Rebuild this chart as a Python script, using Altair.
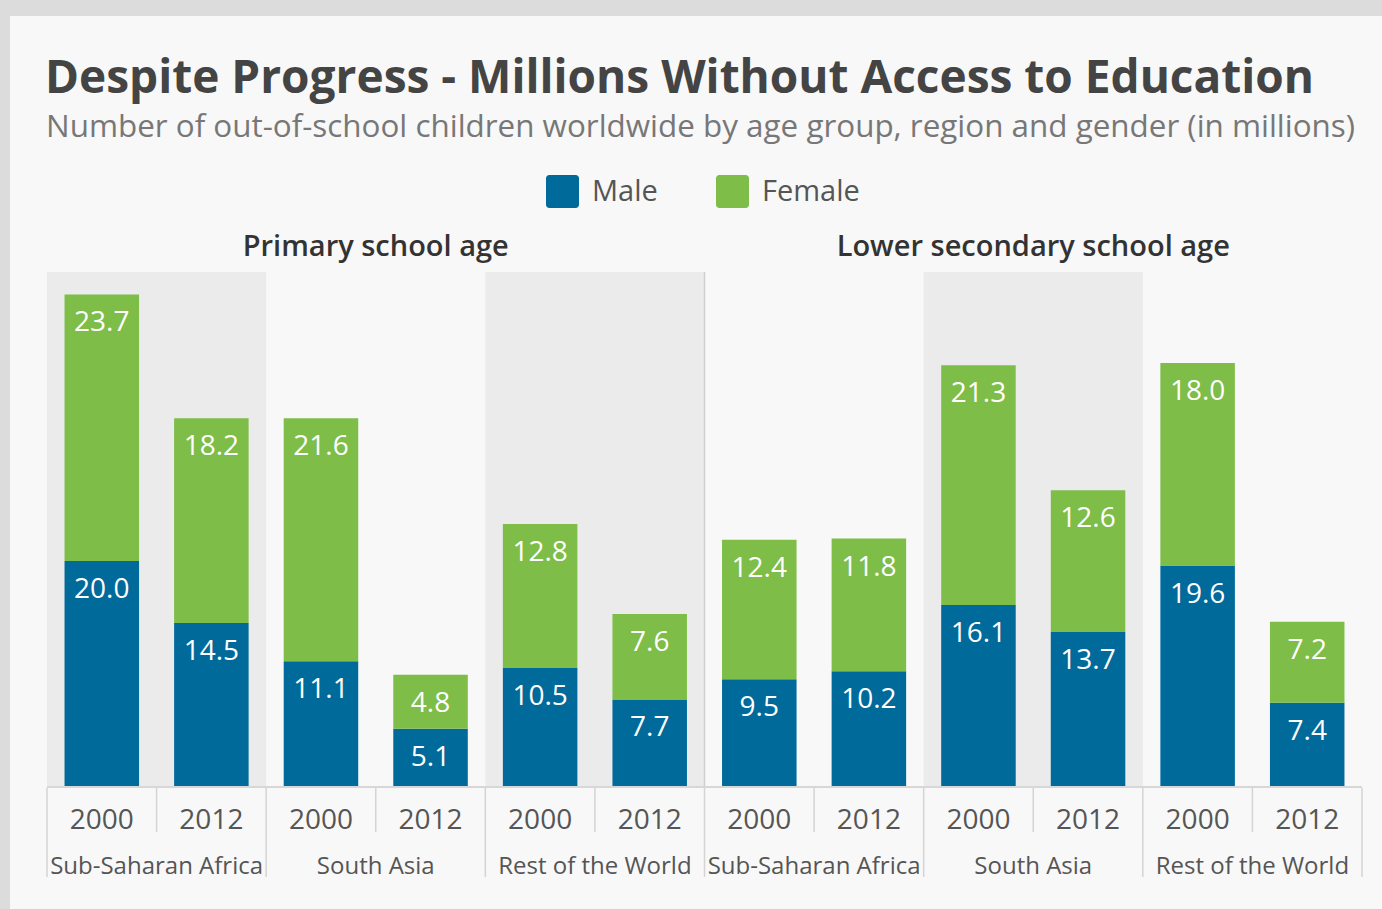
import altair as alt
import pandas as pd

# ---- data ----
age_groups = ["Primary school age", "Lower secondary school age"]
regions = ["Sub-Saharan Africa", "South Asia", "Rest of the World"]
years = ["2000", "2012"]
male = [20.0, 14.5, 11.1, 5.1, 10.5, 7.7, 9.5, 10.2, 16.1, 13.7, 19.6, 7.4]
female = [23.7, 18.2, 21.6, 4.8, 12.8, 7.6, 12.4, 11.8, 21.3, 12.6, 18.0, 7.2]

TITLE = "Despite Progress - Millions Without Access to Education"
SUBTITLE = "Number of out-of-school children worldwide by age group, region and gender (in millions)"

BLUE = "#006a9b"
GREEN = "#7dbd48"
FONT = "Open Sans"

W, H = 1315, 514
YMAX = 45.7

# ---- build tables ----
rows = []
slot = 0
for g in age_groups:
    for r in regions:
        for y in years:
            m = male[slot]
            f = female[slot]
            rows.append(dict(slot=slot, group=g, region=r, year=y, gender="Male",
                             value=m, y0=0.0, y1=m))
            rows.append(dict(slot=slot, group=g, region=r, year=y, gender="Female",
                             value=f, y0=m, y1=m + f))
            slot += 1
bars = pd.DataFrame(rows)
bars["xa"] = bars["slot"] + 0.16
bars["xb"] = bars["slot"] + 0.84
bars["xc"] = bars["slot"] + 0.50

slots = pd.DataFrame({"slot": list(range(12)), "year": years * 6})
slots["xc"] = slots["slot"] + 0.5
ydiv = slots[slots["slot"] % 2 == 1].copy()

reg = pd.DataFrame({"r": list(range(6)), "region": regions * 2})
reg["xa"] = reg["r"] * 2
reg["xb"] = reg["r"] * 2 + 2
reg["xc"] = reg["r"] * 2 + 1
shaded = reg[reg["r"] % 2 == 0].copy()

rdiv = pd.DataFrame({"xd": [0, 2, 4, 6, 8, 10, 12]})
gsep = pd.DataFrame({"xd": [6]})

heads = pd.DataFrame({"group": age_groups, "xc": [3, 9]})
titles = pd.DataFrame({"t": [TITLE]})
subtitles = pd.DataFrame({"t": [SUBTITLE]})
frame = pd.DataFrame({"k": [1]})

xs = alt.Scale(domain=[0, 12], nice=False, zero=False)
ys = alt.Scale(domain=[0, YMAX], nice=False)

panel = alt.Chart(frame).mark_rect(color="#f8f8f8").encode(
    x=alt.value(-37), x2=alt.value(1335), y=alt.value(-256), y2=alt.value(637))

bands = alt.Chart(shaded).mark_rect(color="#ebebeb").encode(
    x=alt.X("xa:Q", scale=xs, axis=None), x2="xb:Q",
    y=alt.value(0), y2=alt.value(H))

sep = alt.Chart(gsep).mark_rule(color="#cfcfcf", strokeWidth=1.5).encode(
    x=alt.X("xd:Q", scale=xs, axis=None), y=alt.value(0), y2=alt.value(H))

barl = alt.Chart(bars).mark_rect().encode(
    x=alt.X("xa:Q", scale=xs, axis=None), x2="xb:Q",
    y=alt.Y("y0:Q", scale=ys, axis=None), y2="y1:Q",
    color=alt.Color("gender:N",
                    scale=alt.Scale(domain=["Male", "Female"], range=[BLUE, GREEN]),
                    legend=alt.Legend(title=None, orient="none", direction="horizontal",
                                      legendX=499, legendY=-97,
                                      symbolType="M-0.8,-1H0.8A0.2,0.2 0 0 1 1,-0.8V0.8A0.2,0.2 0 0 1 0.8,1H-0.8A0.2,0.2 0 0 1 -1,0.8V-0.8A0.2,0.2 0 0 1 -0.8,-1Z",
                                      symbolSize=1089, symbolStrokeWidth=0,
                                      labelFont=FONT, labelFontSize=29, labelColor="#555555",
                                      labelOffset=13, columnPadding=58, padding=0)))

vals = alt.Chart(bars).mark_text(color="white", font=FONT, fontSize=28,
                                 align="center", baseline="alphabetic", dy=37).encode(
    x=alt.X("xc:Q", scale=xs, axis=None), y=alt.Y("y1:Q", scale=ys, axis=None),
    text=alt.Text("value:Q", format=".1f"))

base_rule = alt.Chart(frame).mark_rule(color="#cccccc", strokeWidth=1.5).encode(
    x=alt.value(0), x2=alt.value(W), y=alt.value(H + 1))

year_div = alt.Chart(ydiv).mark_rule(color="#d4d4d4", strokeWidth=1.5).encode(
    x=alt.X("slot:Q", scale=xs, axis=None), y=alt.value(H + 2), y2=alt.value(560))

reg_div = alt.Chart(rdiv).mark_rule(color="#d4d4d4", strokeWidth=1.5).encode(
    x=alt.X("xd:Q", scale=xs, axis=None), y=alt.value(H + 2), y2=alt.value(605))

year_txt = alt.Chart(slots).mark_text(font=FONT, fontSize=28, color="#555555",
                                      align="center", baseline="alphabetic").encode(
    x=alt.X("xc:Q", scale=xs, axis=None), y=alt.value(557), text="year:N")

reg_txt = alt.Chart(reg).mark_text(font=FONT, fontSize=24, color="#555555",
                                   align="center", baseline="alphabetic").encode(
    x=alt.X("xc:Q", scale=xs, axis=None), y=alt.value(602), text="region:N")

head_txt = alt.Chart(heads).mark_text(font=FONT, fontSize=29, fontWeight=600, color="#333333",
                                      align="center", baseline="alphabetic").encode(
    x=alt.X("xc:Q", scale=xs, axis=None), y=alt.value(-16), text="group:N")

title_txt = alt.Chart(titles).mark_text(font=FONT, fontSize=46, fontWeight="bold", color="#444444",
                                        align="left", baseline="alphabetic").encode(
    x=alt.value(-2), y=alt.value(-179), text="t:N")

sub_txt = alt.Chart(subtitles).mark_text(font=FONT, fontSize=31.4, color="#777777",
                                         align="left", baseline="alphabetic").encode(
    x=alt.value(-1), y=alt.value(-135), text="t:N")

chart = alt.layer(
    panel, bands, sep, barl, vals, base_rule, year_div, reg_div,
    year_txt, reg_txt, head_txt, title_txt, sub_txt
).properties(
    width=W, height=H,
    autosize=alt.AutoSizeParams(type="none"),
    padding={"left": 47, "top": 272, "right": 20, "bottom": 123},
    background="#dcdcdc",
).configure_view(strokeWidth=0)

chart.save("out.html", embed_options={"renderer": "svg", "actions": False})
